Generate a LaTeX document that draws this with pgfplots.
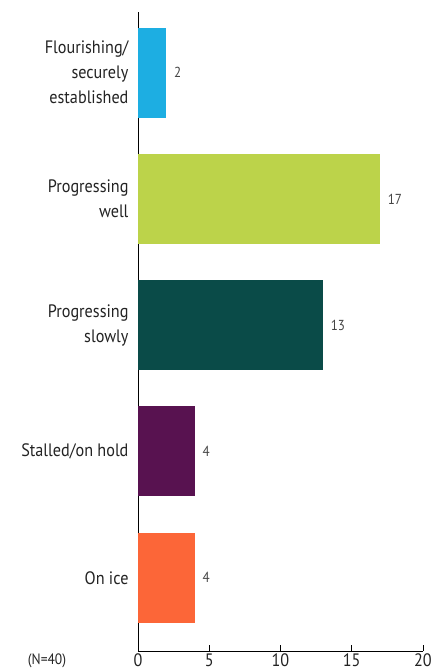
\documentclass[border=0pt]{standalone}
\usepackage{pgfplots}
\pgfplotsset{compat=1.18}
\usepackage{fontspec}
\setmainfont{PT Sans}[FakeStretch=0.9]
\definecolor{cCyan}{RGB}{29,174,226}
\definecolor{cLime}{RGB}{188,211,74}
\definecolor{cTeal}{RGB}{10,75,72}
\definecolor{cPurple}{RGB}{88,18,80}
\definecolor{cOrange}{RGB}{252,102,56}
\definecolor{txt}{RGB}{35,35,35}
\begin{document}
\begin{tikzpicture}
\begin{axis}[
  scale only axis,
  width=285pt, height=639pt,
  xbar, bar width=90pt,
  xmin=0, xmax=20,
  ymin=-0.48, ymax=4.58,
  y dir=reverse,
  axis x line=bottom, axis y line=left,
  axis line style={-, black, line width=0.8pt},
  xtick={0,5,10,15,20},
  tick align=inside,
  major tick length=6pt,
  tick style={black, line width=0.8pt},
  ytick={0,1,2,3,4},
  yticklabels={{Flourishing/\\securely\\established},{Progressing\\well},{Progressing\\slowly},{Stalled/on hold},{On ice}},
  yticklabel style={align=right, font=\fontsize{18}{25}\selectfont, text=txt, xshift=-6pt},
  major y tick style={draw=none},
  xticklabel style={font=\fontsize{18}{20}\selectfont, text=txt, yshift=1pt},
  /pgf/number format/assume math mode=true,
  nodes near coords,
  nodes near coords style={font=\fontsize{14.5}{16}\selectfont, text=txt!85, xshift=4pt},
  clip=false,
]
\addplot[fill=cCyan, draw=none, bar shift=0pt] coordinates {(2,0)};
\addplot[fill=cLime, draw=none, bar shift=0pt] coordinates {(17,1)};
\addplot[fill=cTeal, draw=none, bar shift=0pt] coordinates {(13,2)};
\addplot[fill=cPurple, draw=none, bar shift=0pt] coordinates {(4,3)};
\addplot[fill=cOrange, draw=none, bar shift=0pt] coordinates {(4,4)};
\end{axis}
\node[font=\fontsize{15}{17}\selectfont, text=txt] at ([shift={(-91pt,-10pt)}]current axis.south west) {(N=40)};
\pgfresetboundingbox
\path[use as bounding box] ([shift={(-138pt,-21pt)}]current axis.south west) rectangle ([shift={(8pt,12pt)}]current axis.north east);
\end{tikzpicture}
\end{document}
